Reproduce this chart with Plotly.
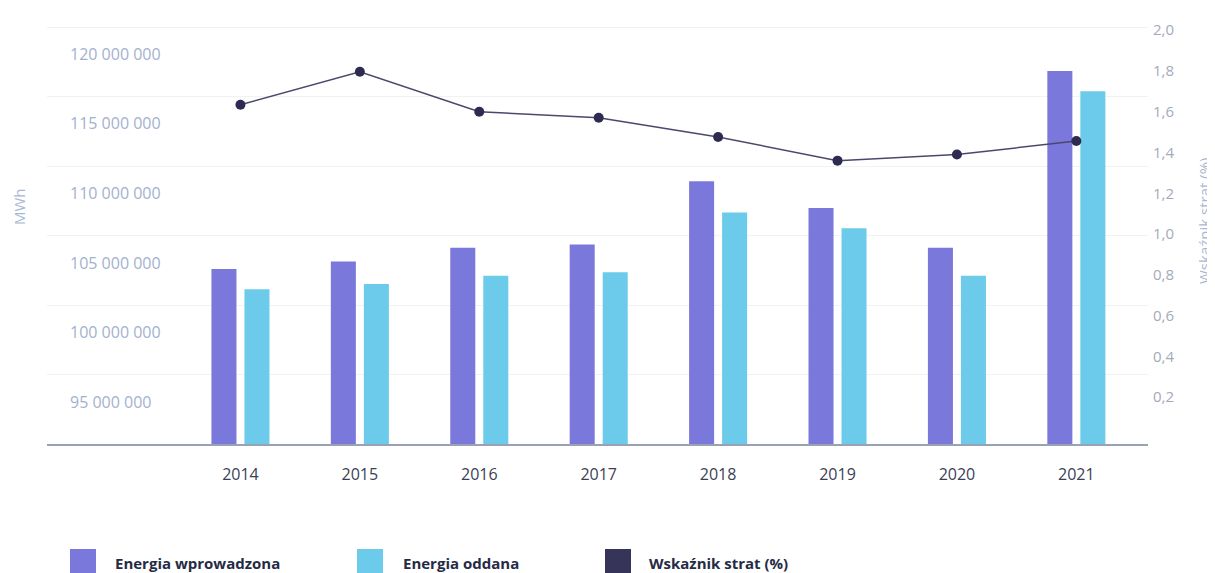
import plotly.graph_objects as go

# ---- data ----
years = ["2014", "2015", "2016", "2017", "2018", "2019", "2020", "2021"]
energia_wprowadzona = [104.56e6, 105.10e6, 106.09e6, 106.33e6, 110.87e6, 108.95e6, 106.09e6, 118.80e6]
energia_oddana = [103.10e6, 103.48e6, 104.08e6, 104.32e6, 108.63e6, 107.49e6, 104.08e6, 117.34e6]
wskaznik_strat = [1.634, 1.796, 1.60, 1.57, 1.476, 1.36, 1.39, 1.456]

left_ticks = [95e6, 100e6, 105e6, 110e6, 115e6, 120e6]
left_ticktext = ["95 000 000", "100 000 000", "105 000 000", "110 000 000", "115 000 000", "120 000 000"]
right_ticks = [0.2, 0.4, 0.6, 0.8, 1.0, 1.2, 1.4, 1.6, 1.8, 2.0]
right_ticktext = ["0,2", "0,4", "0,6", "0,8", "1,0", "1,2", "1,4", "1,6", "1,8", "2,0"]

legend_names = ["Energia wprowadzona", "Energia oddana", "Wskaźnik strat (%)"]

C_PURPLE = "#7b78dc"
C_CYAN = "#6ccbea"
C_NAVY = "#2e2b52"
C_LEG_NAVY = "#363459"
FONT = "Open Sans"

fig = go.Figure()
fig.add_trace(go.Bar(x=years, y=energia_wprowadzona, name=legend_names[0],
                     marker=dict(color=C_PURPLE, line=dict(width=0)), yaxis="y"))
fig.add_trace(go.Bar(x=years, y=energia_oddana, name=legend_names[1],
                     marker=dict(color=C_CYAN, line=dict(width=0)), yaxis="y"))
fig.add_trace(go.Scatter(x=years, y=wskaznik_strat, name=legend_names[2], yaxis="y2",
                         mode="lines+markers",
                         line=dict(color="#4a486c", width=1.5),
                         marker=dict(color=C_NAVY, size=10)))

# page body has an 8px default margin -> compensate
OFF = 8
W, H = 1215 - OFF, 573 - OFF
plot_left, plot_right, plot_top, plot_bottom = 47 - OFF, 1148 - OFF, 22 - OFF, 444 - OFF
L, R, T, B = plot_left, W - plot_right, plot_top, H - plot_bottom
pw, ph = plot_right - plot_left, plot_bottom - plot_top


def px_to_paper(xp, yp):
    # xp, yp in reference-screen pixels
    xp -= OFF
    yp -= OFF
    return (xp - plot_left) / pw, (plot_bottom - yp) / ph


annotations = []
shapes = []
# axis titles
ax_, ay_ = px_to_paper(19, 207)
annotations.append(dict(text="MWh", x=ax_, y=ay_, xref="paper", yref="paper",
                        xanchor="center", yanchor="middle",
                        textangle=-90, showarrow=False,
                        font=dict(family=FONT, size=15, color="#a9b7d3")))
ax_, ay_ = px_to_paper(1204, 221)
annotations.append(dict(text="Wskaźnik strat (%)", x=ax_, y=ay_, xref="paper", yref="paper",
                        xanchor="center", yanchor="middle",
                        textangle=-90, showarrow=False,
                        font=dict(family=FONT, size=15, color="#a9b7d3")))

# legend (manual)
leg_colors = [C_PURPLE, C_CYAN, C_LEG_NAVY]
leg_sq_x = [70, 357, 605]
leg_txt_x = [113, 401, 647]
for name, col, sx, tx in zip(legend_names, leg_colors, leg_sq_x, leg_txt_x):
    x0, y0 = px_to_paper(sx, 549)
    x1, y1 = px_to_paper(sx + 26, 580)
    shapes.append(dict(type="rect", xref="paper", yref="paper", x0=x0, x1=x1, y0=y1, y1=y0,
                       fillcolor=col, line=dict(width=0), layer="above"))
    axx, ayy = px_to_paper(tx, 563)
    annotations.append(dict(text="<b>" + name + "</b>", x=axx, y=ayy, xref="paper", yref="paper",
                            xanchor="left", yanchor="middle", showarrow=False,
                            font=dict(family=FONT, size=15, color="#262b45")))

fig.update_layout(
    width=W, height=H,
    margin=dict(l=L, r=R, t=T, b=B, autoexpand=False),
    paper_bgcolor="white", plot_bgcolor="white",
    showlegend=False,
    barmode="group", bargap=0.447, bargroupgap=0.242,
    font=dict(family=FONT),
    xaxis=dict(type="category", range=[-1.62, 7.6], showgrid=False, zeroline=False,
               showline=True, linecolor="#9aa3b5", linewidth=1.5,
               ticks="", ticklabelstandoff=15,
               tickfont=dict(family=FONT, size=16, color="#3b3f55")),
    yaxis=dict(range=[91.98e6, 122.32e6], tickvals=left_ticks, ticktext=left_ticktext,
               ticklabelposition="inside", ticklabelstandoff=20,
               showgrid=False, zeroline=False, showline=False, ticks="",
               tickfont=dict(family=FONT, size=16, color="#a3b1cf")),
    yaxis2=dict(overlaying="y", side="right", range=[-0.03, 2.04],
                tickvals=right_ticks, ticktext=right_ticktext,
                showgrid=False, zeroline=False, showline=False, ticks="",
                ticklabelstandoff=4,
                tickfont=dict(family=FONT, size=15, color="#a3abbb")),
    yaxis3=dict(overlaying="y", side="left", range=[0, 6.08],
                tickvals=[1, 2, 3, 4, 5, 6, 6.075], showticklabels=False,
                showgrid=True, gridcolor="#f1f2f4", gridwidth=1,
                zeroline=False, showline=False, ticks=""),
    annotations=annotations,
    shapes=shapes,
)

# hidden trace to activate yaxis3 gridlines
fig.add_trace(go.Scatter(x=[years[0]], y=[None], yaxis="y3", showlegend=False,
                         hoverinfo="skip", mode="markers"))

fig.write_html("out.html")
